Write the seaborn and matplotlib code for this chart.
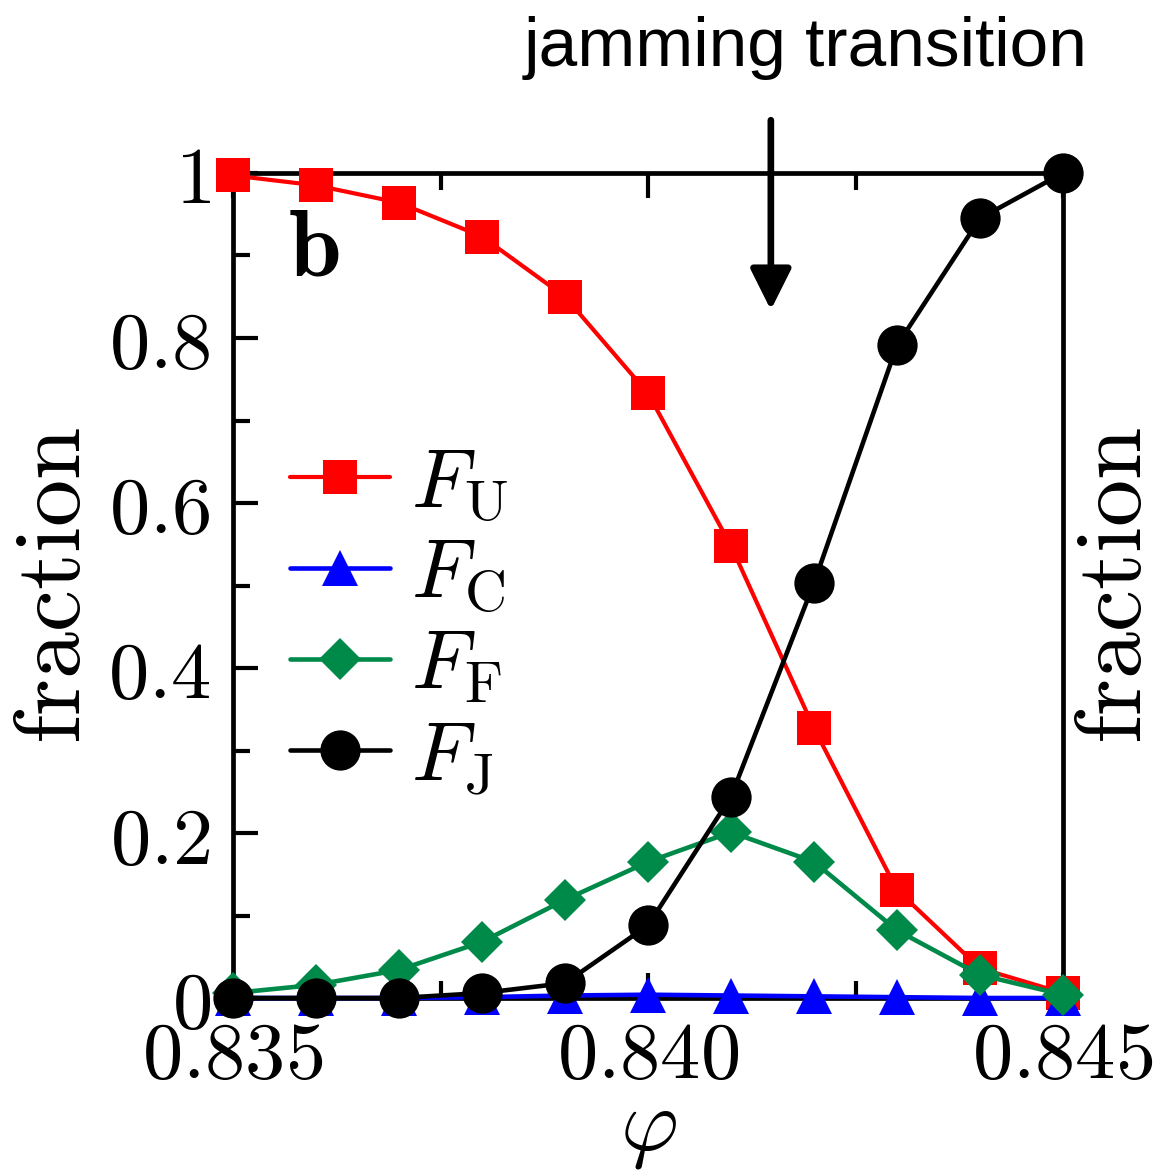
import matplotlib
matplotlib.use("Agg")
import matplotlib.pyplot as plt
import seaborn as sns

# packing fraction and the four population fractions
phi = [0.835, 0.836, 0.837, 0.838, 0.839, 0.840, 0.841, 0.842, 0.843, 0.844, 0.845]
f_u = [0.997, 0.985, 0.964, 0.923, 0.850, 0.733, 0.548, 0.327, 0.131, 0.036, 0.006]
f_c = [0.000, 0.000, 0.000, 0.001, 0.003, 0.004, 0.003, 0.002, 0.001, 0.000, 0.000]
f_f = [0.006, 0.016, 0.034, 0.068, 0.119, 0.165, 0.201, 0.165, 0.082, 0.028, 0.004]
f_j = [0.000, 0.000, 0.000, 0.006, 0.018, 0.088, 0.244, 0.503, 0.791, 0.945, 1.000]

series_labels = [r"$F_{\rm U}$", r"$F_{\rm C}$", r"$F_{\rm F}$", r"$F_{\rm J}$"]
x_ticks = [0.835, 0.840, 0.845]
x_ticklabels = [r"$0.835$", r"$0.840$", r"$0.845$"]
y_ticks = [0.0, 0.2, 0.4, 0.6, 0.8, 1.0]
y_ticklabels = [r"$0$", r"$0.2$", r"$0.4$", r"$0.6$", r"$0.8$", r"$1$"]

sns.set_style("ticks")
plt.rcParams.update({
    "mathtext.fontset": "cm",
    "font.family": ["DejaVu Sans"],
    "text.color": "black",
    "axes.labelcolor": "black",
    "xtick.color": "black",
    "ytick.color": "black",
    "axes.edgecolor": "black",
})

fig = plt.figure(figsize=(11.61, 11.70), dpi=100)
ax = fig.add_axes([233 / 1161, 1 - 998 / 1170, (1063 - 233) / 1161, (998 - 173) / 1170])

styles = [
    (f_u, "#ff0000", "s", 25, 3.0),
    (f_c, "#0000ff", "^", 26, 3.3),
    (f_f, "#008a4a", "D", 21, 3.3),
    (f_j, "#000000", "o", 29, 3.3),
]
for (vals, col, mk, ms, lw), lab in zip(styles, series_labels):
    sns.lineplot(x=phi, y=vals, ax=ax, color=col, marker=mk, markersize=ms,
                 markeredgewidth=0, linewidth=lw, label=lab, clip_on=False,
                 zorder=3)

ax.set_xlim(0.835, 0.845)
ax.set_ylim(0, 1)

for sp in ax.spines.values():
    sp.set_linewidth(3.4)
    sp.set_color("black")
    sp.set_visible(True)

ax.set_xticks(x_ticks)
ax.set_xticklabels(x_ticklabels)
ax.set_xticks([0.8375, 0.8425], minor=True)
ax.set_yticks(y_ticks)
ax.set_yticklabels(y_ticklabels)
ax.set_yticks([0.1, 0.3, 0.5, 0.7, 0.9], minor=True)
ax.tick_params(which="both", direction="in", top=True, right=True,
               width=3.0, color="black", labelcolor="black")
ax.tick_params(which="major", length=18, labelsize=58)
ax.tick_params(which="minor", length=12)
ax.tick_params(axis="x", which="major", pad=14)
ax.tick_params(axis="y", which="major", pad=16)

ax.set_xlabel(r"$\varphi$", fontsize=64, labelpad=-8)
ax.set_ylabel(r"$\mathrm{fraction}$", fontsize=68, labelpad=6)

ax2 = ax.twinx()
ax2.set_ylim(0, 1)
ax2.set_yticks([])
ax2.set_ylabel(r"$\mathrm{fraction}$", fontsize=68, labelpad=4)
for sp in ax2.spines.values():
    sp.set_visible(False)

ax.text(0.83566, 0.876, r"$\mathbf{b}$", fontsize=68, ha="left", va="baseline")

leg = ax.legend(loc="upper left", bbox_to_anchor=(0.029, 0.714), frameon=False,
                fontsize=60, handlelength=1.2, handletextpad=0.25,
                labelspacing=0.12, borderaxespad=0)

ax.annotate("", xy=(0.84148, 0.834), xytext=(0.84148, 1.064),
            xycoords="data", textcoords="data", annotation_clip=False,
            arrowprops=dict(arrowstyle="-|>,head_length=2.5,head_width=1.25",
                            color="black", lw=4.8, shrinkA=0, shrinkB=0))
fig.text(806 / 1161, 1 - 48 / 1170, "jamming transition", fontsize=50,
         family="Liberation Sans", ha="center", va="center")

fig.savefig("out.png", dpi=100)
